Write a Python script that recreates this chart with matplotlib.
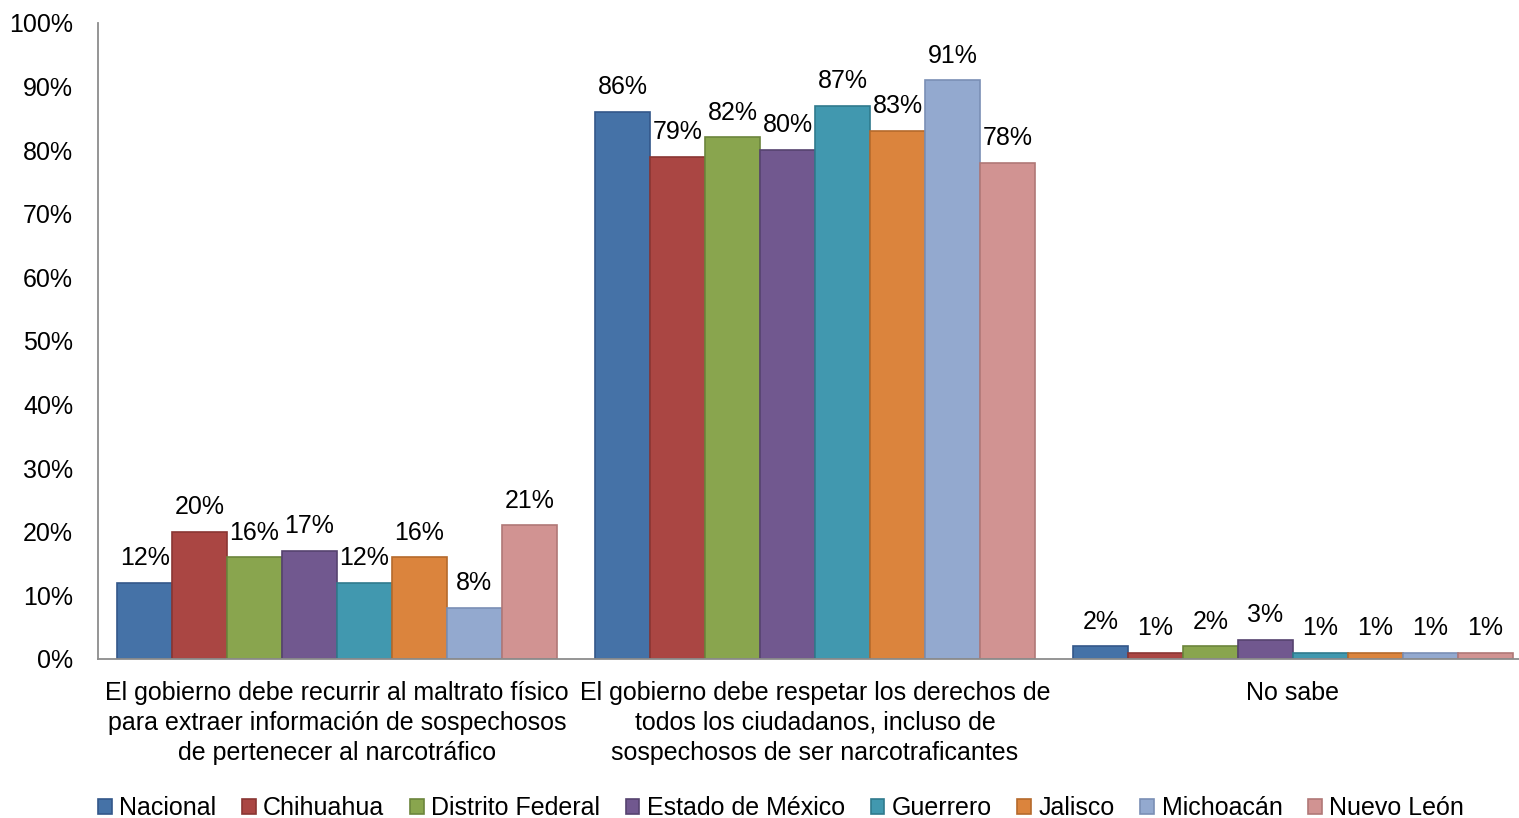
import matplotlib.pyplot as plt
import numpy as np

plt.rcParams['font.family'] = ['Liberation Sans', 'DejaVu Sans']

categories = [
    "El gobierno debe recurrir al maltrato físico\npara extraer información de sospechosos\nde pertenecer al narcotráfico",
    "El gobierno debe respetar los derechos de\ntodos los ciudadanos, incluso de\nsospechosos de ser narcotraficantes",
    "No sabe",
]
series = ["Nacional", "Chihuahua", "Distrito Federal", "Estado de México",
          "Guerrero", "Jalisco", "Michoacán", "Nuevo León"]
nacional = [12, 86, 2]
chihuahua = [20, 79, 1]
distrito_federal = [16, 82, 2]
estado_mexico = [17, 80, 3]
guerrero = [12, 87, 1]
jalisco = [16, 83, 1]
michoacan = [8, 91, 1]
nuevo_leon = [21, 78, 1]
values = [nacional, chihuahua, distrito_federal, estado_mexico,
          guerrero, jalisco, michoacan, nuevo_leon]

colors = ["#4572A7", "#AA4643", "#89A54E", "#71588F",
          "#4198AF", "#DB843D", "#93A9CF", "#D19392"]
edges = ["#34578a", "#8a3633", "#6c853c", "#56436f",
         "#307a8d", "#b56a2c", "#7a8fb5", "#b07877"]

FS = 18

fig = plt.figure(figsize=(15.19, 8.18), dpi=100)
ax = fig.add_axes([98 / 1519, 1 - 659 / 818, 1434 / 1519, (659 - 23) / 818])

x = np.arange(len(categories))
w = 0.115
for i, (name, vals) in enumerate(zip(series, values)):
    pos = x + (i - 3.5) * w
    bars = ax.bar(pos, vals, w, color=colors[i], edgecolor=edges[i],
                  linewidth=1.2, label=name)
    for b, v in zip(bars, vals):
        ax.text(b.get_x() + b.get_width() / 2, v + 2.0, f"{v}%",
                ha='center', va='bottom', fontsize=FS)

ax.set_xlim(-0.5, 2.5)
ax.set_ylim(0, 100)
ax.set_yticks(range(0, 101, 10))
ax.set_yticklabels([f"{t}%" for t in range(0, 101, 10)], fontsize=FS)
ax.tick_params(axis='y', length=0, pad=18)
ax.set_xticks(x)
ax.set_xticklabels(categories, fontsize=FS, linespacing=1.33)
ax.tick_params(axis='x', length=0, pad=15.5)
for s in ['top', 'right']:
    ax.spines[s].set_visible(False)
for s in ['left', 'bottom']:
    ax.spines[s].set_color('#8c8c8c')
    ax.spines[s].set_linewidth(1.3)

fig.legend(loc='lower left', bbox_to_anchor=(88 / 1519, -0.015), ncol=8,
           frameon=False, fontsize=FS, handlelength=0.55, handleheight=0.55,
           handletextpad=0.3, columnspacing=1.02, borderaxespad=0)

fig.savefig("out.png", dpi=100)
